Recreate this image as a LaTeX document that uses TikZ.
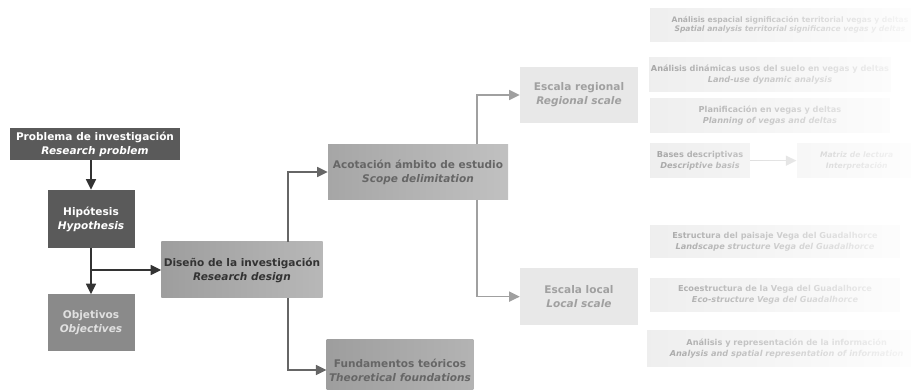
\documentclass[tikz,border=0pt]{standalone}
\usepackage{fontspec}
\setmainfont{DejaVu Sans}
\usepackage{xcolor}
\usetikzlibrary{arrows.meta,positioning,calc,fadings}
\definecolor{BoxDark}{HTML}{5A5A5A}
\definecolor{BoxMid}{HTML}{8A8A8A}
\definecolor{BoxGray}{HTML}{A6A6A6}
\definecolor{BoxLight}{HTML}{E8E8E8}
\definecolor{BoxPale}{HTML}{EEEEEE}
\definecolor{TextDark}{HTML}{333333}
\definecolor{TextGray}{HTML}{666666}
\definecolor{TextLight}{HTML}{A0A0A0}
\tikzfading[name=fadeout, left color=transparent!100, right color=transparent!8]

\begin{document}
\begin{tikzpicture}[
    box/.style={rectangle, inner sep=2pt, align=center,
      font=\fontsize{9}{11.9}\selectfont\bfseries},
    palebox/.style={box, fill=BoxPale, text=TextLight, minimum height=1.05cm,
      font=\fontsize{7}{9.2}\selectfont\bfseries},
    arr/.style={-{Triangle[length=9pt,width=8.5pt]}, line width=1.2pt}
  ]
  \path[use as bounding box, clip] (0,0) rectangle (27.33,11.7);

  % left column
  \node[box, fill=BoxDark, text=white, minimum width=5.1cm, minimum height=0.96cm]
    (prob) at (2.85,7.38) {Problema de investigación\\\textit{Research problem}};
  \node[box, fill=BoxDark, text=white, minimum width=2.61cm, minimum height=1.74cm]
    (hip) at (2.73,5.13) {Hipótesis\\\textit{Hypothesis}};
  \node[box, fill=BoxMid, text=white!88!black, minimum width=2.61cm, minimum height=1.71cm]
    (obj) at (2.73,2.01) {Objetivos\\\textit{Objectives}};

  % research design
  \node[box, left color=BoxGray!95!black, right color=BoxGray!80!white, text=TextDark,
    minimum width=4.77cm, minimum height=1.68cm]
    (dis) at (7.26,3.6) {Diseño de la investigación\\\textit{Research design}};
  \node[box, left color=BoxGray, right color=BoxGray!70!white, text=TextGray,
    minimum width=5.4cm, minimum height=1.65cm]
    (acot) at (12.54,6.54) {Acotación ámbito de estudio\\\textit{Scope delimitation}};
  \node[box, left color=BoxGray!95!black, right color=BoxGray!85!white, text=TextGray,
    minimum width=4.35cm, minimum height=1.8cm]
    (fund) at (12.0,0.6) {Fundamentos teóricos\\\textit{Theoretical foundations}};

  % scales
  \node[box, fill=BoxLight, text=TextLight, minimum width=3.54cm, minimum height=1.68cm]
    (reg) at (17.37,8.85) {Escala regional\\\textit{Regional scale}};
  \node[box, fill=BoxLight, text=TextLight, minimum width=3.54cm, minimum height=1.71cm]
    (loc) at (17.37,2.8) {Escala local\\\textit{Local scale}};

  % right column (faded)
  \node[palebox, minimum width=8.4cm, minimum height=1.0cm,
    font=\fontsize{6.5}{8}\selectfont\bfseries] (espa) at (23.7,10.95)
    {Análisis espacial significación territorial vegas y deltas\\\textit{Spatial analysis territorial significance vegas y deltas}};
  \node[palebox, minimum width=7.2cm] (dina) at (23.1,9.46)
    {Análisis dinámicas usos del suelo en vegas y deltas\\\textit{Land-use dynamic analysis}};
  \node[palebox, minimum width=7.2cm] (plan) at (23.1,8.23)
    {Planificación en vegas y deltas\\\textit{Planning of vegas and deltas}};
  \node[palebox, minimum width=3.0cm] (bases) at (21.0,6.88)
    {Bases descriptivas\\\textit{Descriptive basis}};
  \node[palebox, minimum width=3.6cm, font=\fontsize{6.5}{9.2}\selectfont\bfseries]
    (matriz) at (25.7,6.88)
    {\textit{Matriz de lectura}\\\textit{Interpretación}};
  \node[palebox, minimum width=7.5cm, minimum height=1.0cm] (estr) at (23.25,4.45)
    {Estructura del paisaje Vega del Guadalhorce\\\textit{Landscape structure Vega del Guadalhorce}};
  \node[palebox, minimum width=7.5cm, minimum height=1.0cm] (eco) at (23.25,2.85)
    {Ecoestructura de la Vega del Guadalhorce\\\textit{Eco-structure Vega del Guadalhorce}};
  \node[palebox, minimum width=8.4cm, minimum height=1.1cm] (repr) at (23.6,1.24)
    {Análisis y representación de la información\\\textit{Analysis and spatial representation of information}};

  % connectors
  \draw[arr, TextDark] (hip.north |- prob.south) -- (hip.north);
  \draw[arr, TextDark] (hip) -- (obj);
  \coordinate (split) at (hip.south |- dis.west);
  \draw[arr, TextDark] (split) -- (dis.west);
  \draw[arr, TextGray] ([xshift=1.38cm]dis.north) |- (acot.west);
  \draw[arr, TextGray] ([xshift=1.38cm]dis.south) |- (fund.west);
  \draw[arr, TextLight] ([xshift=1.77cm]acot.north) |- (reg.west);
  \draw[arr, TextLight] ([xshift=1.77cm]acot.south) |- (loc.west);
  \draw[arr, black!20] (bases) -- (matriz);

  % fade to the right
  \fill[white, path fading=fadeout] (19.0,0) rectangle (27.33,11.7);
\end{tikzpicture}
\end{document}
